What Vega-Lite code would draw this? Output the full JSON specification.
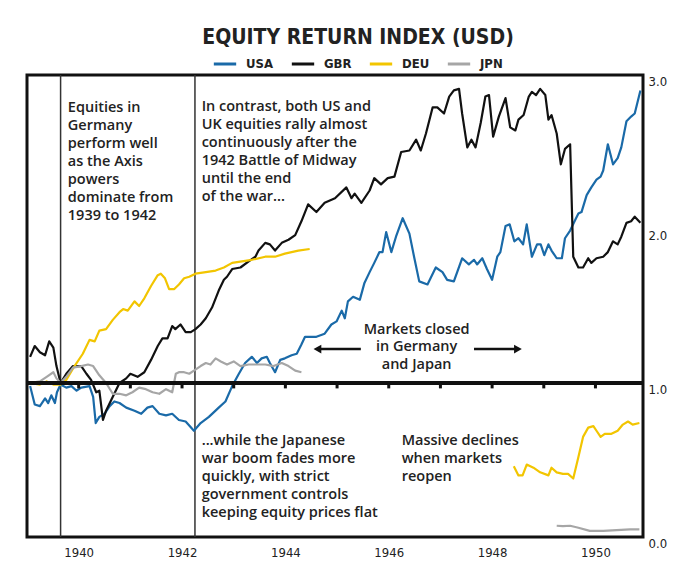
{
  "$schema": "https://vega.github.io/schema/vega-lite/v6.json",
  "width": 616,
  "height": 462,
  "autosize": {"type": "none"},
  "padding": {"left": 27, "top": 75, "right": 53, "bottom": 44},
  "background": "white",
  "title": {
    "text": "EQUITY RETURN INDEX (USD)",
    "font": "DejaVu Sans Condensed",
    "fontSize": 21,
    "fontWeight": "bold",
    "color": "#222222",
    "anchor": "middle",
    "frame": "group",
    "dx": 23,
    "offset": 3
  },
  "config": {
    "view": {"stroke": "#111111", "strokeWidth": 3},
    "axis": {"labelFont": "DejaVu Sans Condensed", "labelFontSize": 13, "labelColor": "#222222"}
  },
  "datasets": {
    "series": [
      {"country":"USA","seg":1,"year":1939.06,"value":0.98},{"country":"USA","seg":1,"year":1939.15,"value":0.86},{"country":"USA","seg":1,"year":1939.25,"value":0.85},{"country":"USA","seg":1,"year":1939.35,"value":0.90},{"country":"USA","seg":1,"year":1939.41,"value":0.87},{"country":"USA","seg":1,"year":1939.47,"value":0.92},{"country":"USA","seg":1,"year":1939.54,"value":0.87},{"country":"USA","seg":1,"year":1939.58,"value":0.94},{"country":"USA","seg":1,"year":1939.65,"value":0.99},{"country":"USA","seg":1,"year":1939.76,"value":0.97},{"country":"USA","seg":1,"year":1939.86,"value":0.98},{"country":"USA","seg":1,"year":1939.96,"value":0.95},{"country":"USA","seg":1,"year":1940.05,"value":0.97},{"country":"USA","seg":1,"year":1940.21,"value":0.98},{"country":"USA","seg":1,"year":1940.28,"value":0.91},{"country":"USA","seg":1,"year":1940.33,"value":0.74},{"country":"USA","seg":1,"year":1940.40,"value":0.78},{"country":"USA","seg":1,"year":1940.50,"value":0.80},{"country":"USA","seg":1,"year":1940.60,"value":0.85},{"country":"USA","seg":1,"year":1940.69,"value":0.88},{"country":"USA","seg":1,"year":1940.79,"value":0.87},{"country":"USA","seg":1,"year":1940.92,"value":0.84},{"country":"USA","seg":1,"year":1941.08,"value":0.82},{"country":"USA","seg":1,"year":1941.21,"value":0.80},{"country":"USA","seg":1,"year":1941.33,"value":0.84},{"country":"USA","seg":1,"year":1941.43,"value":0.85},{"country":"USA","seg":1,"year":1941.56,"value":0.80},{"country":"USA","seg":1,"year":1941.69,"value":0.79},{"country":"USA","seg":1,"year":1941.81,"value":0.80},{"country":"USA","seg":1,"year":1941.94,"value":0.76},{"country":"USA","seg":1,"year":1942.07,"value":0.75},{"country":"USA","seg":1,"year":1942.23,"value":0.69},{"country":"USA","seg":1,"year":1942.36,"value":0.74},{"country":"USA","seg":1,"year":1942.52,"value":0.78},{"country":"USA","seg":1,"year":1942.71,"value":0.84},{"country":"USA","seg":1,"year":1942.84,"value":0.88},{"country":"USA","seg":1,"year":1942.97,"value":0.98},{"country":"USA","seg":1,"year":1943.10,"value":1.06},{"country":"USA","seg":1,"year":1943.22,"value":1.13},{"country":"USA","seg":1,"year":1943.35,"value":1.17},{"country":"USA","seg":1,"year":1943.45,"value":1.13},{"country":"USA","seg":1,"year":1943.54,"value":1.16},{"country":"USA","seg":1,"year":1943.64,"value":1.17},{"country":"USA","seg":1,"year":1943.70,"value":1.13},{"country":"USA","seg":1,"year":1943.80,"value":1.07},{"country":"USA","seg":1,"year":1943.90,"value":1.15},{"country":"USA","seg":1,"year":1943.99,"value":1.16},{"country":"USA","seg":1,"year":1944.12,"value":1.18},{"country":"USA","seg":1,"year":1944.22,"value":1.19},{"country":"USA","seg":1,"year":1944.31,"value":1.25},{"country":"USA","seg":1,"year":1944.38,"value":1.30},{"country":"USA","seg":1,"year":1944.60,"value":1.30},{"country":"USA","seg":1,"year":1944.76,"value":1.32},{"country":"USA","seg":1,"year":1944.89,"value":1.38},{"country":"USA","seg":1,"year":1944.99,"value":1.40},{"country":"USA","seg":1,"year":1945.09,"value":1.47},{"country":"USA","seg":1,"year":1945.15,"value":1.42},{"country":"USA","seg":1,"year":1945.21,"value":1.53},{"country":"USA","seg":1,"year":1945.31,"value":1.56},{"country":"USA","seg":1,"year":1945.44,"value":1.54},{"country":"USA","seg":1,"year":1945.53,"value":1.65},{"country":"USA","seg":1,"year":1945.63,"value":1.72},{"country":"USA","seg":1,"year":1945.72,"value":1.78},{"country":"USA","seg":1,"year":1945.82,"value":1.85},{"country":"USA","seg":1,"year":1945.88,"value":1.85},{"country":"USA","seg":1,"year":1945.95,"value":1.98},{"country":"USA","seg":1,"year":1946.05,"value":1.85},{"country":"USA","seg":1,"year":1946.14,"value":1.95},{"country":"USA","seg":1,"year":1946.27,"value":2.07},{"country":"USA","seg":1,"year":1946.40,"value":1.97},{"country":"USA","seg":1,"year":1946.49,"value":1.82},{"country":"USA","seg":1,"year":1946.59,"value":1.66},{"country":"USA","seg":1,"year":1946.75,"value":1.64},{"country":"USA","seg":1,"year":1946.91,"value":1.75},{"country":"USA","seg":1,"year":1947.04,"value":1.72},{"country":"USA","seg":1,"year":1947.13,"value":1.67},{"country":"USA","seg":1,"year":1947.26,"value":1.66},{"country":"USA","seg":1,"year":1947.42,"value":1.81},{"country":"USA","seg":1,"year":1947.55,"value":1.77},{"country":"USA","seg":1,"year":1947.65,"value":1.80},{"country":"USA","seg":1,"year":1947.71,"value":1.77},{"country":"USA","seg":1,"year":1947.81,"value":1.81},{"country":"USA","seg":1,"year":1947.90,"value":1.74},{"country":"USA","seg":1,"year":1948.00,"value":1.67},{"country":"USA","seg":1,"year":1948.10,"value":1.82},{"country":"USA","seg":1,"year":1948.16,"value":1.85},{"country":"USA","seg":1,"year":1948.26,"value":2.02},{"country":"USA","seg":1,"year":1948.34,"value":2.03},{"country":"USA","seg":1,"year":1948.43,"value":1.92},{"country":"USA","seg":1,"year":1948.51,"value":1.94},{"country":"USA","seg":1,"year":1948.60,"value":1.90},{"country":"USA","seg":1,"year":1948.67,"value":2.03},{"country":"USA","seg":1,"year":1948.77,"value":1.82},{"country":"USA","seg":1,"year":1948.87,"value":1.90},{"country":"USA","seg":1,"year":1948.94,"value":1.90},{"country":"USA","seg":1,"year":1949.01,"value":1.83},{"country":"USA","seg":1,"year":1949.09,"value":1.90},{"country":"USA","seg":1,"year":1949.15,"value":1.86},{"country":"USA","seg":1,"year":1949.25,"value":1.81},{"country":"USA","seg":1,"year":1949.35,"value":1.81},{"country":"USA","seg":1,"year":1949.41,"value":1.94},{"country":"USA","seg":1,"year":1949.51,"value":1.99},{"country":"USA","seg":1,"year":1949.61,"value":2.06},{"country":"USA","seg":1,"year":1949.67,"value":2.10},{"country":"USA","seg":1,"year":1949.73,"value":2.11},{"country":"USA","seg":1,"year":1949.83,"value":2.22},{"country":"USA","seg":1,"year":1949.92,"value":2.27},{"country":"USA","seg":1,"year":1950.02,"value":2.32},{"country":"USA","seg":1,"year":1950.10,"value":2.34},{"country":"USA","seg":1,"year":1950.15,"value":2.38},{"country":"USA","seg":1,"year":1950.24,"value":2.55},{"country":"USA","seg":1,"year":1950.34,"value":2.42},{"country":"USA","seg":1,"year":1950.43,"value":2.46},{"country":"USA","seg":1,"year":1950.50,"value":2.53},{"country":"USA","seg":1,"year":1950.60,"value":2.70},{"country":"USA","seg":1,"year":1950.69,"value":2.73},{"country":"USA","seg":1,"year":1950.76,"value":2.75},{"country":"USA","seg":1,"year":1950.87,"value":2.90},
      {"country":"GBR","seg":1,"year":1939.06,"value":1.17},{"country":"GBR","seg":1,"year":1939.15,"value":1.24},{"country":"GBR","seg":1,"year":1939.25,"value":1.20},{"country":"GBR","seg":1,"year":1939.35,"value":1.18},{"country":"GBR","seg":1,"year":1939.43,"value":1.27},{"country":"GBR","seg":1,"year":1939.51,"value":1.23},{"country":"GBR","seg":1,"year":1939.57,"value":1.11},{"country":"GBR","seg":1,"year":1939.65,"value":1.00},{"country":"GBR","seg":1,"year":1939.76,"value":1.06},{"country":"GBR","seg":1,"year":1939.89,"value":1.11},{"country":"GBR","seg":1,"year":1940.05,"value":1.11},{"country":"GBR","seg":1,"year":1940.15,"value":1.06},{"country":"GBR","seg":1,"year":1940.24,"value":1.02},{"country":"GBR","seg":1,"year":1940.34,"value":0.94},{"country":"GBR","seg":1,"year":1940.40,"value":0.95},{"country":"GBR","seg":1,"year":1940.47,"value":0.76},{"country":"GBR","seg":1,"year":1940.53,"value":0.82},{"country":"GBR","seg":1,"year":1940.63,"value":0.89},{"country":"GBR","seg":1,"year":1940.79,"value":1.00},{"country":"GBR","seg":1,"year":1940.92,"value":1.03},{"country":"GBR","seg":1,"year":1941.00,"value":1.06},{"country":"GBR","seg":1,"year":1941.14,"value":1.04},{"country":"GBR","seg":1,"year":1941.27,"value":1.07},{"country":"GBR","seg":1,"year":1941.40,"value":1.15},{"country":"GBR","seg":1,"year":1941.53,"value":1.24},{"country":"GBR","seg":1,"year":1941.62,"value":1.29},{"country":"GBR","seg":1,"year":1941.72,"value":1.29},{"country":"GBR","seg":1,"year":1941.81,"value":1.37},{"country":"GBR","seg":1,"year":1941.87,"value":1.35},{"country":"GBR","seg":1,"year":1941.97,"value":1.38},{"country":"GBR","seg":1,"year":1942.07,"value":1.33},{"country":"GBR","seg":1,"year":1942.17,"value":1.33},{"country":"GBR","seg":1,"year":1942.26,"value":1.35},{"country":"GBR","seg":1,"year":1942.36,"value":1.38},{"country":"GBR","seg":1,"year":1942.46,"value":1.42},{"country":"GBR","seg":1,"year":1942.58,"value":1.49},{"country":"GBR","seg":1,"year":1942.71,"value":1.60},{"country":"GBR","seg":1,"year":1942.81,"value":1.67},{"country":"GBR","seg":1,"year":1942.87,"value":1.69},{"country":"GBR","seg":1,"year":1942.97,"value":1.74},{"country":"GBR","seg":1,"year":1943.13,"value":1.75},{"country":"GBR","seg":1,"year":1943.29,"value":1.79},{"country":"GBR","seg":1,"year":1943.42,"value":1.82},{"country":"GBR","seg":1,"year":1943.48,"value":1.86},{"country":"GBR","seg":1,"year":1943.61,"value":1.91},{"country":"GBR","seg":1,"year":1943.70,"value":1.90},{"country":"GBR","seg":1,"year":1943.80,"value":1.86},{"country":"GBR","seg":1,"year":1943.93,"value":1.91},{"country":"GBR","seg":1,"year":1944.06,"value":1.93},{"country":"GBR","seg":1,"year":1944.19,"value":1.96},{"country":"GBR","seg":1,"year":1944.31,"value":2.05},{"country":"GBR","seg":1,"year":1944.44,"value":2.16},{"country":"GBR","seg":1,"year":1944.60,"value":2.11},{"country":"GBR","seg":1,"year":1944.76,"value":2.17},{"country":"GBR","seg":1,"year":1944.96,"value":2.20},{"country":"GBR","seg":1,"year":1945.18,"value":2.27},{"country":"GBR","seg":1,"year":1945.28,"value":2.20},{"country":"GBR","seg":1,"year":1945.34,"value":2.23},{"country":"GBR","seg":1,"year":1945.47,"value":2.17},{"country":"GBR","seg":1,"year":1945.63,"value":2.25},{"country":"GBR","seg":1,"year":1945.72,"value":2.33},{"country":"GBR","seg":1,"year":1945.85,"value":2.29},{"country":"GBR","seg":1,"year":1945.98,"value":2.33},{"country":"GBR","seg":1,"year":1946.11,"value":2.34},{"country":"GBR","seg":1,"year":1946.24,"value":2.50},{"country":"GBR","seg":1,"year":1946.40,"value":2.51},{"country":"GBR","seg":1,"year":1946.53,"value":2.58},{"country":"GBR","seg":1,"year":1946.62,"value":2.51},{"country":"GBR","seg":1,"year":1946.72,"value":2.62},{"country":"GBR","seg":1,"year":1946.85,"value":2.79},{"country":"GBR","seg":1,"year":1946.94,"value":2.79},{"country":"GBR","seg":1,"year":1947.07,"value":2.75},{"country":"GBR","seg":1,"year":1947.17,"value":2.86},{"country":"GBR","seg":1,"year":1947.26,"value":2.90},{"country":"GBR","seg":1,"year":1947.36,"value":2.91},{"country":"GBR","seg":1,"year":1947.42,"value":2.75},{"country":"GBR","seg":1,"year":1947.52,"value":2.53},{"country":"GBR","seg":1,"year":1947.60,"value":2.58},{"country":"GBR","seg":1,"year":1947.68,"value":2.53},{"country":"GBR","seg":1,"year":1947.78,"value":2.69},{"country":"GBR","seg":1,"year":1947.87,"value":2.86},{"country":"GBR","seg":1,"year":1947.94,"value":2.87},{"country":"GBR","seg":1,"year":1948.02,"value":2.60},{"country":"GBR","seg":1,"year":1948.13,"value":2.73},{"country":"GBR","seg":1,"year":1948.26,"value":2.85},{"country":"GBR","seg":1,"year":1948.35,"value":2.66},{"country":"GBR","seg":1,"year":1948.45,"value":2.64},{"country":"GBR","seg":1,"year":1948.51,"value":2.71},{"country":"GBR","seg":1,"year":1948.61,"value":2.74},{"country":"GBR","seg":1,"year":1948.71,"value":2.86},{"country":"GBR","seg":1,"year":1948.77,"value":2.89},{"country":"GBR","seg":1,"year":1948.85,"value":2.87},{"country":"GBR","seg":1,"year":1948.93,"value":2.91},{"country":"GBR","seg":1,"year":1949.03,"value":2.87},{"country":"GBR","seg":1,"year":1949.09,"value":2.71},{"country":"GBR","seg":1,"year":1949.15,"value":2.74},{"country":"GBR","seg":1,"year":1949.25,"value":2.62},{"country":"GBR","seg":1,"year":1949.33,"value":2.42},{"country":"GBR","seg":1,"year":1949.41,"value":2.52},{"country":"GBR","seg":1,"year":1949.51,"value":2.55},{"country":"GBR","seg":1,"year":1949.57,"value":1.82},{"country":"GBR","seg":1,"year":1949.67,"value":1.75},{"country":"GBR","seg":1,"year":1949.76,"value":1.75},{"country":"GBR","seg":1,"year":1949.86,"value":1.81},{"country":"GBR","seg":1,"year":1949.92,"value":1.78},{"country":"GBR","seg":1,"year":1950.02,"value":1.81},{"country":"GBR","seg":1,"year":1950.15,"value":1.82},{"country":"GBR","seg":1,"year":1950.24,"value":1.85},{"country":"GBR","seg":1,"year":1950.34,"value":1.92},{"country":"GBR","seg":1,"year":1950.43,"value":1.90},{"country":"GBR","seg":1,"year":1950.50,"value":1.95},{"country":"GBR","seg":1,"year":1950.60,"value":2.04},{"country":"GBR","seg":1,"year":1950.69,"value":2.05},{"country":"GBR","seg":1,"year":1950.76,"value":2.08},{"country":"GBR","seg":1,"year":1950.87,"value":2.04},
      {"country":"DEU","seg":1,"year":1939.06,"value":1.00},{"country":"DEU","seg":1,"year":1939.25,"value":0.99},{"country":"DEU","seg":1,"year":1939.38,"value":1.01},{"country":"DEU","seg":1,"year":1939.51,"value":0.99},{"country":"DEU","seg":1,"year":1939.65,"value":0.99},{"country":"DEU","seg":1,"year":1939.76,"value":1.02},{"country":"DEU","seg":1,"year":1939.92,"value":1.11},{"country":"DEU","seg":1,"year":1940.08,"value":1.19},{"country":"DEU","seg":1,"year":1940.21,"value":1.28},{"country":"DEU","seg":1,"year":1940.31,"value":1.27},{"country":"DEU","seg":1,"year":1940.40,"value":1.34},{"country":"DEU","seg":1,"year":1940.53,"value":1.35},{"country":"DEU","seg":1,"year":1940.66,"value":1.41},{"country":"DEU","seg":1,"year":1940.79,"value":1.46},{"country":"DEU","seg":1,"year":1940.86,"value":1.48},{"country":"DEU","seg":1,"year":1940.95,"value":1.47},{"country":"DEU","seg":1,"year":1941.08,"value":1.53},{"country":"DEU","seg":1,"year":1941.17,"value":1.50},{"country":"DEU","seg":1,"year":1941.27,"value":1.55},{"country":"DEU","seg":1,"year":1941.40,"value":1.63},{"country":"DEU","seg":1,"year":1941.53,"value":1.70},{"country":"DEU","seg":1,"year":1941.59,"value":1.71},{"country":"DEU","seg":1,"year":1941.67,"value":1.68},{"country":"DEU","seg":1,"year":1941.75,"value":1.61},{"country":"DEU","seg":1,"year":1941.85,"value":1.61},{"country":"DEU","seg":1,"year":1941.94,"value":1.64},{"country":"DEU","seg":1,"year":1942.04,"value":1.68},{"country":"DEU","seg":1,"year":1942.14,"value":1.69},{"country":"DEU","seg":1,"year":1942.26,"value":1.71},{"country":"DEU","seg":1,"year":1942.46,"value":1.72},{"country":"DEU","seg":1,"year":1942.65,"value":1.73},{"country":"DEU","seg":1,"year":1942.81,"value":1.75},{"country":"DEU","seg":1,"year":1942.97,"value":1.78},{"country":"DEU","seg":1,"year":1943.16,"value":1.79},{"country":"DEU","seg":1,"year":1943.35,"value":1.80},{"country":"DEU","seg":1,"year":1943.61,"value":1.82},{"country":"DEU","seg":1,"year":1943.80,"value":1.82},{"country":"DEU","seg":1,"year":1943.99,"value":1.84},{"country":"DEU","seg":1,"year":1944.25,"value":1.86},{"country":"DEU","seg":1,"year":1944.47,"value":1.87},
      {"country":"DEU","seg":2,"year":1948.42,"value":0.46},{"country":"DEU","seg":2,"year":1948.51,"value":0.40},{"country":"DEU","seg":2,"year":1948.59,"value":0.40},{"country":"DEU","seg":2,"year":1948.67,"value":0.47},{"country":"DEU","seg":2,"year":1948.80,"value":0.45},{"country":"DEU","seg":2,"year":1948.93,"value":0.42},{"country":"DEU","seg":2,"year":1949.09,"value":0.40},{"country":"DEU","seg":2,"year":1949.15,"value":0.45},{"country":"DEU","seg":2,"year":1949.25,"value":0.42},{"country":"DEU","seg":2,"year":1949.37,"value":0.41},{"country":"DEU","seg":2,"year":1949.47,"value":0.41},{"country":"DEU","seg":2,"year":1949.57,"value":0.38},{"country":"DEU","seg":2,"year":1949.67,"value":0.52},{"country":"DEU","seg":2,"year":1949.76,"value":0.65},{"country":"DEU","seg":2,"year":1949.86,"value":0.71},{"country":"DEU","seg":2,"year":1949.96,"value":0.72},{"country":"DEU","seg":2,"year":1950.02,"value":0.69},{"country":"DEU","seg":2,"year":1950.10,"value":0.65},{"country":"DEU","seg":2,"year":1950.18,"value":0.67},{"country":"DEU","seg":2,"year":1950.31,"value":0.67},{"country":"DEU","seg":2,"year":1950.43,"value":0.69},{"country":"DEU","seg":2,"year":1950.53,"value":0.73},{"country":"DEU","seg":2,"year":1950.63,"value":0.75},{"country":"DEU","seg":2,"year":1950.72,"value":0.73},{"country":"DEU","seg":2,"year":1950.85,"value":0.74},
      {"country":"JPN","seg":1,"year":1939.06,"value":1.00},{"country":"JPN","seg":1,"year":1939.25,"value":1.01},{"country":"JPN","seg":1,"year":1939.38,"value":1.04},{"country":"JPN","seg":1,"year":1939.51,"value":1.07},{"country":"JPN","seg":1,"year":1939.57,"value":1.03},{"country":"JPN","seg":1,"year":1939.65,"value":1.00},{"country":"JPN","seg":1,"year":1939.76,"value":1.04},{"country":"JPN","seg":1,"year":1939.89,"value":1.10},{"country":"JPN","seg":1,"year":1940.05,"value":1.11},{"country":"JPN","seg":1,"year":1940.18,"value":1.12},{"country":"JPN","seg":1,"year":1940.28,"value":1.11},{"country":"JPN","seg":1,"year":1940.40,"value":1.05},{"country":"JPN","seg":1,"year":1940.53,"value":1.00},{"country":"JPN","seg":1,"year":1940.66,"value":0.93},{"country":"JPN","seg":1,"year":1940.79,"value":0.93},{"country":"JPN","seg":1,"year":1940.92,"value":0.92},{"country":"JPN","seg":1,"year":1941.04,"value":0.94},{"country":"JPN","seg":1,"year":1941.17,"value":0.97},{"country":"JPN","seg":1,"year":1941.30,"value":0.96},{"country":"JPN","seg":1,"year":1941.43,"value":0.94},{"country":"JPN","seg":1,"year":1941.56,"value":0.93},{"country":"JPN","seg":1,"year":1941.69,"value":0.96},{"country":"JPN","seg":1,"year":1941.81,"value":0.94},{"country":"JPN","seg":1,"year":1941.88,"value":1.06},{"country":"JPN","seg":1,"year":1941.94,"value":1.07},{"country":"JPN","seg":1,"year":1942.04,"value":1.07},{"country":"JPN","seg":1,"year":1942.14,"value":1.06},{"country":"JPN","seg":1,"year":1942.23,"value":1.08},{"country":"JPN","seg":1,"year":1942.36,"value":1.11},{"country":"JPN","seg":1,"year":1942.46,"value":1.13},{"country":"JPN","seg":1,"year":1942.55,"value":1.12},{"country":"JPN","seg":1,"year":1942.65,"value":1.16},{"country":"JPN","seg":1,"year":1942.75,"value":1.14},{"country":"JPN","seg":1,"year":1942.87,"value":1.12},{"country":"JPN","seg":1,"year":1943.00,"value":1.14},{"country":"JPN","seg":1,"year":1943.13,"value":1.11},{"country":"JPN","seg":1,"year":1943.29,"value":1.12},{"country":"JPN","seg":1,"year":1943.45,"value":1.12},{"country":"JPN","seg":1,"year":1943.61,"value":1.12},{"country":"JPN","seg":1,"year":1943.77,"value":1.11},{"country":"JPN","seg":1,"year":1943.93,"value":1.13},{"country":"JPN","seg":1,"year":1944.06,"value":1.11},{"country":"JPN","seg":1,"year":1944.19,"value":1.08},{"country":"JPN","seg":1,"year":1944.31,"value":1.07},
      {"country":"JPN","seg":2,"year":1949.25,"value":0.073},{"country":"JPN","seg":2,"year":1949.37,"value":0.07},{"country":"JPN","seg":2,"year":1949.51,"value":0.073},{"country":"JPN","seg":2,"year":1949.67,"value":0.06},{"country":"JPN","seg":2,"year":1949.89,"value":0.04},{"country":"JPN","seg":2,"year":1950.15,"value":0.04},{"country":"JPN","seg":2,"year":1950.41,"value":0.045},{"country":"JPN","seg":2,"year":1950.67,"value":0.05},{"country":"JPN","seg":2,"year":1950.85,"value":0.05}
    ],
    "events": [
      {"event": "War begins", "year": 1939.65},
      {"event": "Battle of Midway", "year": 1942.25}
    ],
    "ticks": [
      {"year": 1940}, {"year": 1941}, {"year": 1942}, {"year": 1943}, {"year": 1944}, {"year": 1945},
      {"year": 1946}, {"year": 1947}, {"year": 1948}, {"year": 1949}, {"year": 1950}
    ],
    "notes": [
      {"id": "axis", "year": 1939.79, "value": 2.83, "text": "Equities in\nGermany\nperform well\nas the Axis\npowers\ndominate from\n1939 to 1942"},
      {"id": "allies", "year": 1942.38, "value": 2.84, "text": "In contrast, both US and\nUK equities rally almost\ncontinuously after the\n1942 Battle of Midway\nuntil the end\nof the war..."},
      {"id": "japan", "year": 1942.38, "value": 0.67, "text": "...while the Japanese\nwar boom fades more\nquickly, with strict\ngovernment controls\nkeeping equity prices flat"},
      {"id": "reopen", "year": 1946.25, "value": 0.67, "text": "Massive declines\nwhen markets\nreopen"},
      {"id": "closed", "year": 1946.54, "value": 1.39, "text": "Markets closed\nin Germany\nand Japan"}
    ],
    "arrows": [
      {"dir": "left", "tail": 1945.46, "tip": 1944.62, "level": 1.22},
      {"dir": "right", "tail": 1947.65, "tip": 1948.50, "level": 1.22}
    ]
  },
  "layer": [
    {
      "data": {"name": "events"},
      "mark": {"type": "rule", "color": "#333333", "strokeWidth": 1.5},
      "encoding": {
        "x": {"field": "year", "type": "quantitative", "title": null, "scale": {"domain": [1939, 1950.92], "nice": false, "zero": false}}
      }
    },
    {
      "data": {"name": "series"},
      "mark": {"type": "line", "strokeWidth": 2.2, "strokeJoin": "round"},
      "encoding": {
        "x": {
          "field": "year", "type": "quantitative", "title": null,
          "scale": {"domain": [1939, 1950.92], "nice": false, "zero": false},
          "axis": {"orient": "bottom", "values": [1940, 1942, 1944, 1946, 1948, 1950], "format": "d", "domain": false, "ticks": false, "grid": false, "labelPadding": 9}
        },
        "y": {
          "field": "value", "type": "quantitative", "title": null,
          "scale": {"domain": [0, 3], "nice": false},
          "axis": {"orient": "right", "values": [0, 1, 2, 3], "format": ".1f", "domain": false, "ticks": false, "grid": false, "labelPadding": 5, "labelBaseline": "top"}
        },
        "color": {
          "field": "country", "type": "nominal",
          "scale": {"domain": ["USA", "GBR", "DEU", "JPN"], "range": ["#1a6aa8", "#111111", "#f2c500", "#a6a6a6"]},
          "legend": {
            "title": null, "orient": "none", "legendX": 185, "legendY": -24, "direction": "horizontal",
            "symbolType": "stroke", "symbolStrokeWidth": 3, "symbolSize": 500, "labelOffset": 8,
            "columnPadding": 11, "gridAlign": "all",
            "labelFont": "DejaVu Sans Condensed", "labelFontSize": 13, "labelFontWeight": "bold", "labelColor": "#222222"
          }
        },
        "detail": {"field": "seg", "type": "nominal"}
      }
    },
    {
      "data": {"name": "series"},
      "mark": {"type": "rule", "color": "#111111", "strokeWidth": 3},
      "encoding": {"y": {"datum": 1, "type": "quantitative", "scale": {"domain": [0, 3], "nice": false}}}
    },
    {
      "data": {"name": "ticks"},
      "mark": {"type": "rule", "color": "#111111", "strokeWidth": 3},
      "encoding": {
        "x": {"field": "year", "type": "quantitative", "title": null, "scale": {"domain": [1939, 1950.92], "nice": false, "zero": false}},
        "y": {"datum": 1, "type": "quantitative", "scale": {"domain": [0, 3], "nice": false}},
        "y2": {"datum": 0.965}
      }
    },
    {
      "data": {"name": "notes"},
      "transform": [{"filter": "datum.id != 'closed'"}],
      "mark": {"type": "text", "align": "left", "baseline": "top", "lineBreak": "\n", "font": "Open Sans", "fontSize": 14.5, "fontWeight": 600, "lineHeight": 18, "color": "#222222"},
      "encoding": {
        "x": {"field": "year", "type": "quantitative", "title": null, "scale": {"domain": [1939, 1950.92], "nice": false, "zero": false}},
        "y": {"field": "value", "type": "quantitative", "title": null, "scale": {"domain": [0, 3], "nice": false}},
        "text": {"field": "text"}
      }
    },
    {
      "data": {"name": "notes"},
      "transform": [{"filter": "datum.id == 'closed'"}],
      "mark": {"type": "text", "align": "center", "baseline": "top", "lineBreak": "\n", "font": "Open Sans", "fontSize": 14.5, "fontWeight": 600, "lineHeight": 17.5, "color": "#222222"},
      "encoding": {
        "x": {"field": "year", "type": "quantitative", "title": null, "scale": {"domain": [1939, 1950.92], "nice": false, "zero": false}},
        "y": {"field": "value", "type": "quantitative", "title": null, "scale": {"domain": [0, 3], "nice": false}},
        "text": {"field": "text"}
      }
    },
    {
      "data": {"name": "arrows"},
      "mark": {"type": "rule", "color": "#111111", "strokeWidth": 2.5},
      "encoding": {
        "x": {"field": "tail", "type": "quantitative", "title": null, "scale": {"domain": [1939, 1950.92], "nice": false, "zero": false}},
        "x2": {"field": "tip"},
        "y": {"field": "level", "type": "quantitative", "title": null, "scale": {"domain": [0, 3], "nice": false}}
      }
    },
    {
      "data": {"name": "arrows"},
      "mark": {"type": "point", "filled": true, "color": "#111111", "opacity": 1, "size": 80},
      "encoding": {
        "x": {"field": "tip", "type": "quantitative", "title": null, "scale": {"domain": [1939, 1950.92], "nice": false, "zero": false}},
        "y": {"field": "level", "type": "quantitative", "title": null, "scale": {"domain": [0, 3], "nice": false}},
        "shape": {"field": "dir", "type": "nominal", "scale": {"domain": ["left", "right"], "range": ["triangle-left", "triangle-right"]}, "legend": null}
      }
    }
  ]
}
